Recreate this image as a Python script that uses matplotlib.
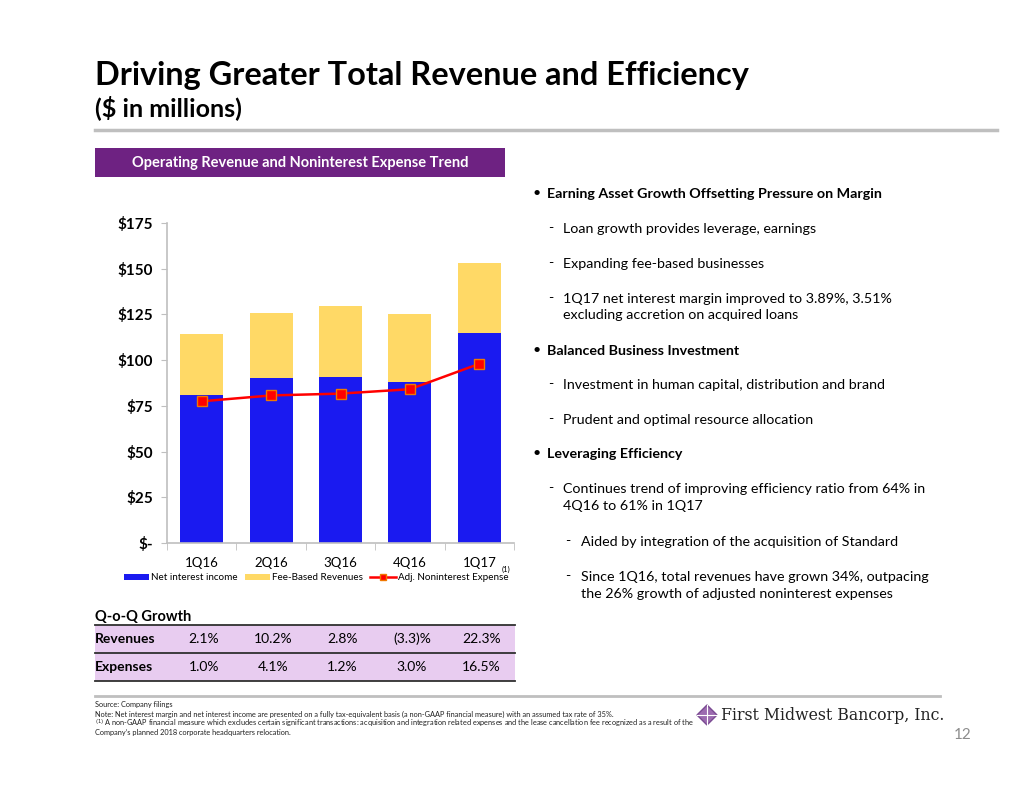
import matplotlib

matplotlib.use("Agg")

import matplotlib.pyplot as plt
import matplotlib.transforms as mtransforms
from matplotlib.lines import Line2D
from matplotlib.patches import Patch, Polygon, Rectangle

plt.rcParams["font.family"] = ["Lato", "DejaVu Sans"]

W, H = 1034, 799

quarters = ["1Q16", "2Q16", "3Q16", "4Q16", "1Q17"]
net_interest_income = [80.7, 90.0, 90.9, 87.8, 115.1]
fee_based_revenues = [33.5, 36.0, 38.7, 37.5, 38.1]
adj_noninterest_expense = [77.5, 80.7, 81.7, 84.1, 98.0]
y_ticks = [0, 25, 50, 75, 100, 125, 150, 175]
y_tick_labels = ["$-", "$25", "$50", "$75", "$100", "$125", "$150", "$175"]

growth_rows = ["Revenues", "Expenses"]
revenue_growth = ["2.1%", "10.2%", "2.8%", "(3.3)%", "22.3%"]
expense_growth = ["1.0%", "4.1%", "1.2%", "3.0%", "16.5%"]

BLUE = "#1A1AF0"
YELLOW = "#FFD966"
RED = "#FF0000"
PURPLE = "#6E2282"
LAVENDER = "#E8CCF0"


def fx(x):
    return x / W


def fy(y):
    return 1 - y / H


fig = plt.figure(figsize=(W / 100, H / 100), dpi=100)

# title block
fig.text(fx(95), fy(75), "Driving Greater Total Revenue and Efficiency",
         fontsize=23.4, fontweight="bold", va="center", ha="left")
fig.text(fx(95), fy(108), "($ in millions)", fontsize=18,
         fontweight="bold", va="center", ha="left")
fig.add_artist(Line2D([fx(95), fx(997)], [fy(130), fy(130)],
                      color="#BFBFBF", linewidth=2.5))

# purple header
fig.add_artist(Rectangle((fx(95), fy(177)), fx(410), 29 / H,
                         facecolor=PURPLE, edgecolor="none"))
fig.text(fx(300), fy(162.5), "Operating Revenue and Noninterest Expense Trend",
         color="white", fontsize=10.5, fontweight="bold",
         ha="center", va="center")

# chart
ax = fig.add_axes([fx(167), fy(543), 347 / W, 320 / H])
x = range(len(quarters))
ax.bar(x, net_interest_income, width=0.62, color=BLUE,
       label="Net interest income", zorder=2)
ax.bar(x, fee_based_revenues, width=0.62, bottom=net_interest_income,
       color=YELLOW, label="Fee-Based Revenues", zorder=2)
ax.plot(x, adj_noninterest_expense, color=RED, linewidth=1.8, marker="s",
        markersize=7, markerfacecolor=RED, markeredgecolor="#F07800",
        markeredgewidth=1, zorder=3)

ax.set_xlim(-0.5, len(quarters) - 0.5)
ax.set_ylim(0, 175)
ax.set_yticks(y_ticks)
ax.set_yticklabels(y_tick_labels, fontsize=11, fontweight="bold")
ax.set_xticks(list(x))
ax.set_xticklabels(quarters, fontsize=9.5)
ax.set_xticks([i - 0.5 for i in range(len(quarters) + 1)], minor=True)
ax.tick_params(axis="x", which="major", length=0, pad=10)
ax.tick_params(axis="x", which="minor", length=5, color="#BFBFBF",
               direction="out")
ax.tick_params(axis="y", length=4, color="#BFBFBF", pad=6)
for side in ["top", "right"]:
    ax.spines[side].set_visible(False)
for side in ["left", "bottom"]:
    ax.spines[side].set_color("#BFBFBF")
    ax.spines[side].set_linewidth(1.2)

handles = [
    Patch(facecolor=BLUE, label="Net interest income"),
    Patch(facecolor=YELLOW, label="Fee-Based Revenues"),
    Line2D([0], [0], color=RED, linewidth=1.8, marker="s", markersize=5,
           markerfacecolor=RED, markeredgecolor="#F07800",
           label="Adj. Noninterest Expense"),
]
fig.legend(handles=handles, loc="center", bbox_to_anchor=(fx(316), fy(578)),
           ncol=3, frameon=False, fontsize=7.1, handlelength=2.6,
           handleheight=0.6, columnspacing=0.7, handletextpad=0.2,
           borderpad=0, borderaxespad=0)
fig.text(fx(506), fy(569), "(1)", fontsize=5.5, ha="center", va="center")

# growth table
col_tf = mtransforms.blended_transform_factory(ax.transData, fig.transFigure)
fig.text(fx(95), fy(617), "Q-o-Q Growth", fontsize=10.5,
         fontweight="bold", va="center")
row_tops = [625, 653]
row_h = 28
for label, values, top in zip(growth_rows,
                              [revenue_growth, expense_growth], row_tops):
    fig.add_artist(Rectangle((fx(95), fy(top + row_h)), fx(420), row_h / H,
                             facecolor=LAVENDER, edgecolor="none"))
    mid = top + row_h / 2
    fig.text(fx(95), fy(mid), label, fontsize=10, fontweight="bold",
             va="center")
    for i, val in enumerate(values):
        fig.text(i + 0.03, fy(mid), val, fontsize=10, ha="center",
                 va="center", transform=col_tf)
for y_line in [625, 653, 681]:
    fig.add_artist(Line2D([fx(95), fx(515)], [fy(y_line), fy(y_line)],
                          color="#303030", linewidth=1.3))

# commentary bullets
bullets = [
    (533, 547, 193, "Earning Asset Growth Offsetting Pressure on Margin", True),
    (548, 563, 228, "Loan growth provides leverage, earnings", False),
    (548, 563, 263, "Expanding fee-based businesses", False),
    (548, 563, 298,
     "1Q17 net interest margin improved to 3.89%, 3.51%\n"
     "excluding accretion on acquired loans", False),
    (533, 547, 350, "Balanced Business Investment", True),
    (548, 563, 384, "Investment in human capital, distribution and brand",
     False),
    (548, 563, 419, "Prudent and optimal resource allocation", False),
    (533, 547, 453, "Leveraging Efficiency", True),
    (548, 563, 488,
     "Continues trend of improving efficiency ratio from 64% in\n"
     "4Q16 to 61% in 1Q17", False),
    (565, 581, 541, "Aided by integration of the acquisition of Standard",
     False),
    (565, 581, 576,
     "Since 1Q16, total revenues have grown 34%, outpacing\n"
     "the 26% growth of adjusted noninterest expenses", False),
]
shift = mtransforms.ScaledTranslation(0, 5 / 100, fig.dpi_scale_trans)
for mx, tx, ty, text, bold in bullets:
    marker = "\u2022" if bold else "-"
    fig.text(fx(mx), fy(ty), marker, fontsize=10.3, ha="left", va="center")
    fig.text(fx(tx), fy(ty), text, fontsize=10.3,
             fontweight="bold" if bold else "normal", ha="left", va="top",
             linespacing=1.45, transform=fig.transFigure + shift)

# footnotes
fig.add_artist(Line2D([fx(95), fx(940)], [fy(696), fy(696)],
                      color="#BFBFBF", linewidth=2))
footnotes = [
    (707, "Source: Company filings"),
    (716.5, "Note: Net interest margin and net interest income are presented "
            "on a fully tax-equivalent basis (a non-GAAP financial measure) "
            "with an assumed tax rate of 35%."),
    (726, "$^{(1)}$ A non-GAAP financial measure which excludes certain "
          "significant transactions: acquisition and integration related "
          "expenses and the lease cancellation fee recognized as a result "
          "of the"),
    (735.5, "Company\u2019s planned 2018 corporate headquarters relocation."),
]
for base_px, text in footnotes:
    fig.text(fx(95), fy(base_px), text, fontsize=5.3, ha="left",
             va="baseline", color="#202020")

# logo
lx, ly = 707, 715
fig.add_artist(Polygon([(fx(lx - 10), fy(ly)), (fx(lx), fy(ly - 10)),
                        (fx(lx + 10), fy(ly)), (fx(lx), fy(ly + 10))],
                       closed=True, facecolor="#9C6BB0", edgecolor="#7A4A92"))
fig.add_artist(Line2D([fx(lx - 10), fx(lx + 10)], [fy(ly), fy(ly)],
                      color="white", linewidth=0.8))
fig.add_artist(Line2D([fx(lx), fx(lx)], [fy(ly - 10), fy(ly + 10)],
                      color="white", linewidth=0.8))
fig.text(fx(721), fy(715), "First Midwest Bancorp, Inc.", fontsize=11.3,
         family=["DejaVu Serif"], ha="left", va="center", color="#222222")
fig.text(fx(963), fy(735), "12", fontsize=11, color="#8C8C8C",
         ha="center", va="center")

fig.savefig("out.png", dpi=100)
